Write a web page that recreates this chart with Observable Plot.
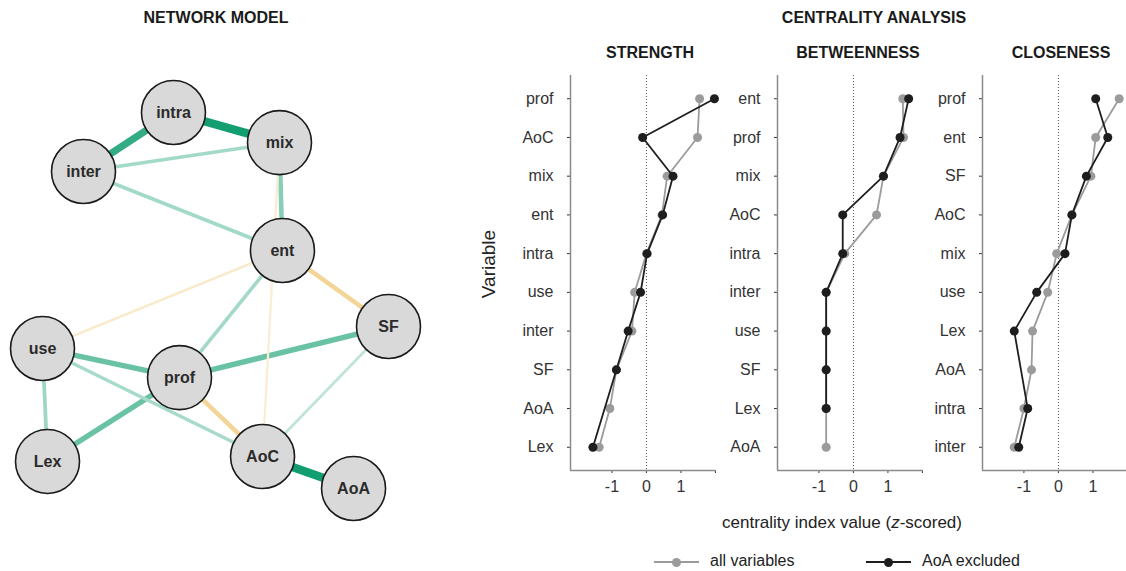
<!DOCTYPE html>
<html><head><meta charset="utf-8">
<script src="https://cdn.jsdelivr.net/npm/d3@7"></script>
<script src="https://cdn.jsdelivr.net/npm/@observablehq/plot@0.6"></script>
<style>
html,body{margin:0;padding:0;background:#fff;overflow:hidden;}
#root{position:relative;width:1126px;height:571px;overflow:hidden;font-family:"Liberation Sans",Arial,Helvetica,sans-serif;color:#222;}
.abs{position:absolute;white-space:nowrap;}
.title{font-weight:bold;font-size:16px;line-height:18px;transform:translateX(-50%);color:#1a1a1a;}
.lg-line{position:absolute;height:2px;}
.lg-dot{position:absolute;width:9px;height:9px;border-radius:50%;}
</style></head><body><div id="root"></div>
<script>
// ---------- Network model data ----------
const nodeNames = ["intra","mix","inter","ent","use","prof","SF","Lex","AoC","AoA"];
const nodeX = [-0.243, 0.370, -0.763, 0.387, -1.000, -0.208, 1.000, -0.971, 0.272, 0.798];
const nodeY = [ 1.000, 0.840,  0.686, 0.266, -0.255, -0.410, -0.138, -0.856, -0.830, -1.000];

const edgeFrom   = ["intra","inter","AoC","use","prof","prof","mix","inter","inter","ent","use","use","SF","ent","prof","ent","mix"];
const edgeTo     = ["mix","intra","AoA","prof","SF","Lex","ent","mix","ent","prof","Lex","AoC","AoC","SF","AoC","use","AoC"];
const edgeWeight = [0.46, 0.38, 0.46, 0.26, 0.26, 0.26, 0.20, 0.14, 0.14, 0.14, 0.15, 0.13, 0.08, -0.20, -0.20, -0.07, -0.05];

// ---------- Centrality data (z-scored) ----------
const strengthOrder = ["prof","AoC","mix","ent","intra","use","inter","SF","AoA","Lex"];
const strengthAll   = [1.54, 1.48, 0.60, 0.45, 0.00, -0.34, -0.42, -0.87, -1.06, -1.37];
const strengthExcl  = [1.97, -0.11, 0.77, 0.47, 0.02, -0.17, -0.53, -0.87, null, -1.55];

const betweennessOrder = ["ent","prof","mix","AoC","intra","inter","use","SF","Lex","AoA"];
const betweennessAll   = [1.43, 1.45, 0.87, 0.67, -0.25, -0.79, -0.79, -0.79, -0.79, -0.79];
const betweennessExcl  = [1.60, 1.35, 0.87, -0.31, -0.31, -0.79, -0.79, -0.79, -0.79, null];

const closenessOrder = ["prof","ent","SF","AoC","mix","use","Lex","AoA","intra","inter"];
const closenessAll   = [1.76, 1.08, 0.94, 0.39, -0.05, -0.31, -0.75, -0.78, -1.00, -1.28];
const closenessExcl  = [1.08, 1.43, 0.81, 0.39, 0.19, -0.63, -1.28, null, -0.89, -1.15];

const xTicks = [-1, 0, 1, 2];
const seriesNames = ["all variables", "AoA excluded"];
const seriesColors = ["#9b9b9b", "#1e1e1e"];

const FONT = '"Liberation Sans", Arial, Helvetica, sans-serif';
const root = document.getElementById("root");

function addText(txt, x, y, cls, extra) {
  const d = document.createElement("div");
  d.className = "abs " + (cls || "");
  d.innerHTML = txt;
  d.style.left = x + "px";
  d.style.top = y + "px";
  if (extra) Object.assign(d.style, extra);
  root.appendChild(d);
  return d;
}
function place(el, left, top) {
  el.style.position = "absolute";
  el.style.left = left + "px";
  el.style.top = top + "px";
  root.appendChild(el);
}

// ---------- Network ----------
const nodes = nodeNames.map((n, i) => ({name: n, x: nodeX[i], y: nodeY[i]}));
const pos = Object.fromEntries(nodes.map(d => [d.name, d]));
const edges = edgeFrom.map((f, i) => ({from: f, to: edgeTo[i], w: edgeWeight[i]}));
const posCol = d3.interpolateRgb("#ffffff", "#129e70");
const negCol = d3.interpolateRgb("#ffffff", "#e9ad35");
const edgeColor = d => (d.w > 0 ? posCol : negCol)(Math.min(1, 0.12 + Math.abs(d.w) * 1.95));

const net = Plot.plot({
  width: 460, height: 571,
  marginTop: 0, marginRight: 0, marginBottom: 0, marginLeft: 0,
  style: {fontFamily: FONT, background: "transparent", overflow: "visible"},
  x: {domain: [-1, 1], range: [42, 388], axis: null},
  y: {domain: [-1, 1], range: [488, 112], axis: null},
  marks: [
    Plot.link(edges, {
      x1: d => pos[d.from].x, y1: d => pos[d.from].y,
      x2: d => pos[d.to].x, y2: d => pos[d.to].y,
      stroke: edgeColor,
      strokeWidth: d => 1.5 + Math.abs(d.w) * 15,
      strokeLinecap: "butt"
    }),
    Plot.dot(nodes, {x: "x", y: "y", r: 32, fill: "#d9d9d9", stroke: "#1a1a1a", strokeWidth: 1.6}),
    Plot.text(nodes, {x: "x", y: "y", text: "name", fontSize: 16, fontWeight: "bold", fill: "#2b2b2b"})
  ]
});
place(net, 0, 0);

// ---------- Centrality panels ----------
function panel(order, all, excl, left) {
  const rowsAll = order.map((v, i) => ({i, v, val: all[i]})).filter(d => d.val != null);
  const rowsEx = order.map((v, i) => ({i, v, val: excl[i]})).filter(d => d.val != null);
  const xDomain = [-2.2, 2.03];
  const yDomain = [-0.6, order.length - 1 + 0.6];
  const p = Plot.plot({
    width: 220, height: 440,
    marginLeft: 70, marginRight: 4, marginTop: 15, marginBottom: 30,
    style: {fontFamily: FONT, fontSize: "16px", color: "#333", background: "transparent", overflow: "visible"},
    x: {domain: xDomain, ticks: xTicks, tickFormat: d => (d === 2 ? "" : String(d)), tickSize: 3, tickPadding: 7, label: null},
    y: {domain: yDomain, reverse: true, ticks: order.map((_, i) => i), tickFormat: i => order[i], tickSize: 3, tickPadding: 14, label: null},
    marks: [
      Plot.ruleX([0], {stroke: "#555", strokeWidth: 1, strokeDasharray: "1,2"}),
      Plot.ruleX([xDomain[0]], {stroke: "#8a8a8a", strokeWidth: 1.5}),
      Plot.ruleY([yDomain[1]], {stroke: "#8a8a8a", strokeWidth: 1.5}),
      Plot.line(rowsAll, {x: "val", y: "i", stroke: seriesColors[0], strokeWidth: 1.8}),
      Plot.dot(rowsAll, {x: "val", y: "i", fill: seriesColors[0], r: 4.5}),
      Plot.line(rowsEx, {x: "val", y: "i", stroke: seriesColors[1], strokeWidth: 1.8}),
      Plot.dot(rowsEx, {x: "val", y: "i", fill: seriesColors[1], r: 4.5})
    ]
  });
  place(p, left, 60);
}
panel(strengthOrder, strengthAll, strengthExcl, 500);
panel(betweennessOrder, betweennessAll, betweennessExcl, 707);
panel(closenessOrder, closenessAll, closenessExcl, 912);

// ---------- Titles & labels ----------
addText("NETWORK MODEL", 216, 9, "title");
addText("CENTRALITY ANALYSIS", 874, 9, "title");
addText("STRENGTH", 650, 44, "title");
addText("BETWEENNESS", 858, 44, "title");
addText("CLOSENESS", 1061, 44, "title");
addText("Variable", 489, 264, "", {fontSize: "19px", lineHeight: "20px", color: "#222", transform: "translate(-50%,-50%) rotate(-90deg)"});
addText('centrality index value (<i>z</i>-scored)', 842, 513, "", {fontSize: "17px", lineHeight: "20px", color: "#222", transform: "translateX(-50%)"});

// ---------- Legend ----------
const lg = [{x: 654, text: 710}, {x: 866, text: 922}];
seriesNames.forEach((name, k) => {
  const l = document.createElement("div");
  l.className = "lg-line";
  Object.assign(l.style, {left: lg[k].x + "px", top: "561px", width: "45px", background: seriesColors[k]});
  root.appendChild(l);
  const dt = document.createElement("div");
  dt.className = "lg-dot";
  Object.assign(dt.style, {left: (lg[k].x + 18) + "px", top: "557.5px", background: seriesColors[k]});
  root.appendChild(dt);
  addText(name, lg[k].text, 552, "", {fontSize: "16px", lineHeight: "18px", color: "#222"});
});
</script>
</body></html>
